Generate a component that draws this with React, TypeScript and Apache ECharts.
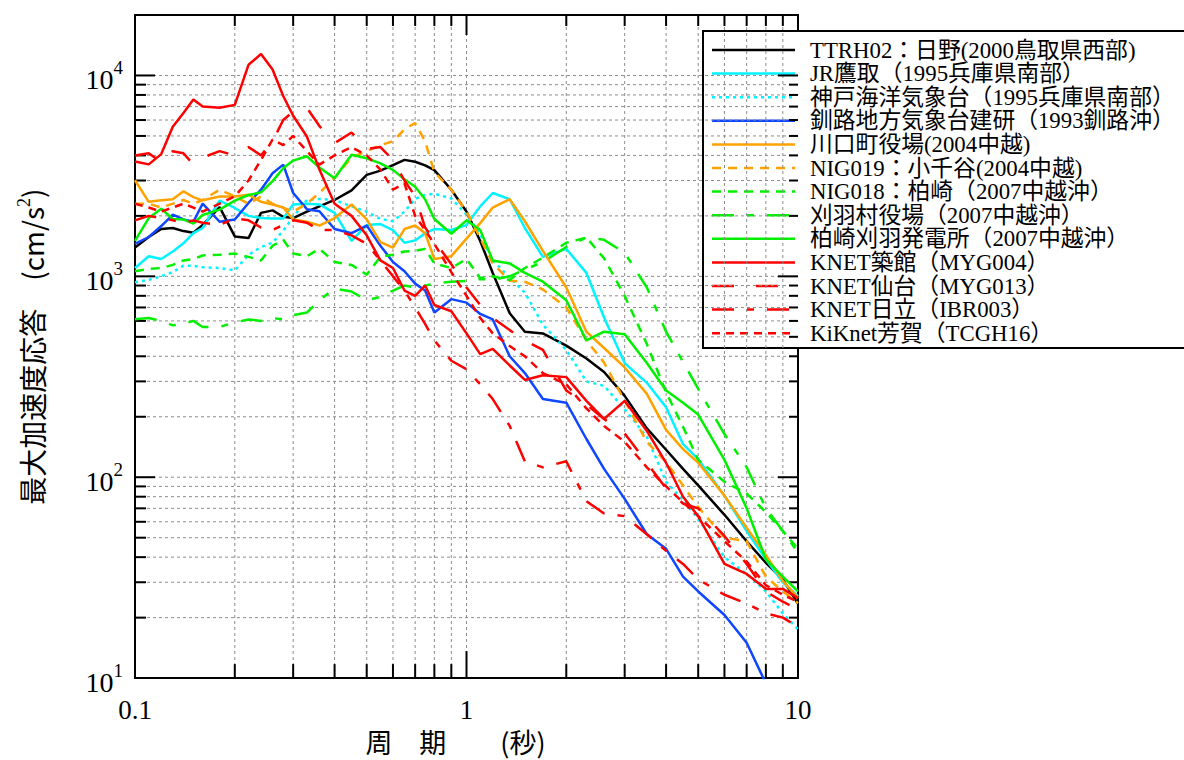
import React, { useEffect, useRef } from 'react';
import * as echarts from 'echarts';

// ---------- data ----------
const periods = [0.1, 0.11, 0.12, 0.13, 0.14, 0.15, 0.16, 0.18, 0.2, 0.22, 0.24, 0.26, 0.28, 0.3, 0.33, 0.36, 0.4, 0.45, 0.5, 0.55, 0.6, 0.65, 0.7, 0.75, 0.8, 0.9, 1.0, 1.1, 1.2, 1.35, 1.5, 1.7, 2.0, 2.3, 2.6, 3.0, 3.5, 4, 4.5, 5, 6, 7, 8, 9, 10];

const seriesNames = [
  'TTRH02：日野(2000鳥取県西部)',
  'JR鷹取（1995兵庫県南部）',
  '神戸海洋気象台（1995兵庫県南部）',
  '釧路地方気象台建研（1993釧路沖）',
  '川口町役場(2004中越)',
  'NIG019：小千谷(2004中越)',
  'NIG018：柏崎（2007中越沖）',
  '刈羽村役場（2007中越沖）',
  '柏崎刈羽発電所（2007中越沖）',
  'KNET築館（MYG004）',
  'KNET仙台（MYG013）',
  'KNET日立（IBR003）',
  'KiKnet芳賀（TCGH16）',
];

const ttrh02 = [1390, 1570, 1720, 1740, 1680, 1650, 1800, 2210, 1580, 1550, 2070, 2130, 1980, 1950, 2100, 2230, 2400, 2680, 3200, 3360, 3580, 3800, 3720, 3570, 3380, 2700, 2100, 1500, 1040, 655, 530, 520, 452, 390, 334, 254, 175, 137, 110, 91, 65, 48, 37.5, 31, 23.4];
const jrTakatori = [1100, 1260, 1220, 1330, 1460, 1640, 1740, 2380, 2190, 2000, 1950, 1940, 1940, 2280, 2300, 2280, 2070, 1500, 1800, 1820, 1700, 1470, 1510, 1640, 1720, 1700, 1800, 2230, 2600, 2420, 1740, 1250, 1370, 1040, 624, 370, 295, 223, 146, 123, 81, 54, 39, 30, 25.6];
const kobe = [935, 960, 1000, 1050, 1130, 1130, 1110, 1100, 1070, 1280, 1400, 1470, 1690, 1970, 2400, 2430, 2400, 2230, 2100, 1930, 1880, 2100, 2430, 2540, 2580, 2440, 2030, 1620, 1200, 985, 830, 575, 430, 300, 285, 218, 159, 95, 77, 62, 40, 33, 27, 21, 17.5];
const kushiro = [1450, 1570, 1780, 2030, 1920, 1870, 2300, 1870, 1920, 2320, 2700, 3260, 3600, 2600, 2160, 2110, 1720, 1640, 1790, 1420, 1180, 1060, 920, 850, 660, 770, 740, 650, 610, 400, 330, 245, 235, 155, 110, 78, 52, 44, 32, 27, 20.6, 15, 9.4, null, null];
const kawaguchi = [3010, 2350, 2390, 2420, 2650, 2480, 2390, 2500, 2500, 2550, 2350, 2280, 2200, 1920, 1870, 1790, 1950, 2280, 1920, 1480, 1390, 1720, 1790, 1640, 1220, 1260, 1540, 1840, 2200, 2420, 1880, 1340, 880, 530, 440, 352, 260, 172, 138, 118, 81, 56, 41, 30.5, 25];
const nig019 = [2300, 2300, 2200, 2300, 2400, 2300, 2400, 2700, 2500, 2300, 2500, 2300, 2200, 2100, 2300, 2600, 3100, 3900, 4200, 4500, 4700, 5400, 5800, 4700, 3300, 2700, 2100, 1550, 1160, 950, 940, 860, 700, 480, 372, 240, 150, 119, 91, 71, 50, 48, 32, 27, 23.6];
const nig018 = [1060, 1090, 1100, 1140, 1200, 1220, 1270, 1280, 1300, 1250, 1200, 1420, 1520, 1300, 1260, 1370, 1180, 1140, 1020, 1250, 1280, 1330, 1340, 1370, 1160, 1100, 1220, 980, 1000, 960, 1100, 1240, 1470, 1560, 1230, 800, 460, 265, 178, 122, 95, 83, 67, 54, 44];
const kariwa = [612, 620, 600, 570, 580, 600, 560, 560, 590, 610, 600, 620, 610, 640, 660, 760, 870, 840, 760, 790, 850, 900, 880, 900, 920, 940, 950, 970, 960, 1000, 1080, 1180, 1400, 1560, 1520, 1310, 880, 530, 375, 275, 164, 112, 70, 54, 42];
const kashiwazaki = [1500, 1950, 2170, 1930, 1920, 1830, 2020, 2150, 2380, 2540, 2620, 2980, 3450, 3770, 3960, 3480, 3080, 4030, 3870, 3650, 3390, 3040, 2790, 2420, 1930, 1630, 1900, 1700, 1200, 1160, 1040, 940, 760, 480, 530, 515, 370, 270, 235, 205, 122, 70, 39, 32, 27];
const tsukidate = [3730, 3610, 4060, 5560, 6500, 7600, 7000, 6900, 7140, 11300, 12800, 10700, 7900, 6300, 4970, 3400, 2300, 2000, 1600, 1200, 1100, 850, 800, 900, 720, 670, 520, 410, 435, 360, 305, 322, 315, 240, 195, 240, 170, 118, 80, 64, 37, 33, 27.8, 27.8, 25];
const sendai = [4000, 4100, 3700, 4200, 4100, 3600, 3900, 4200, 4000, 4400, 4000, 4700, 6000, 6600, 6900, 5600, 4600, 5200, 4300, 4400, 3800, 3000, 2500, 1750, 1500, 1150, 880, 720, 620, 540, 480, 430, 270, 230, 195, 165, 118, 88, 74, 70, 51, 37, 27, 24, 22];
const hitachi = [1900, 2000, 1950, 1900, 1850, 1900, 1850, 1800, 1950, 1900, 1750, 1700, 1800, 1900, 1850, 1700, 1700, 1600, 1450, 1200, 1000, 850, 700, 580, 480, 380, 345, 290, 245, 180, 120, 112, 120, 76, 66, 64, 52, 43, 37, 31, 26, 23.5, 21, 20, 18];
const haga = [2300, 2200, 2100, 2200, 2300, 2200, 2100, 2300, 2500, 3000, 3800, 4800, 4500, 5000, 4200, 3600, 4000, 4400, 4000, 3400, 2700, 2900, 2000, 1700, 1450, 1050, 800, 620, 520, 450, 400, 330, 290, 220, 180, 150, 112, 90, 75, 64, 48, 38, 29, 26, 24];

const seriesValues = [ttrh02, jrTakatori, kobe, kushiro, kawaguchi, nig019, nig018, kariwa, kashiwazaki, tsukidate, sendai, hitachi, haga];

// grid / tick values
const xMinorTicks = [0.2, 0.3, 0.4, 0.5, 0.6, 0.7, 0.8, 0.9, 2, 3, 4, 5, 6, 7, 8, 9];
const xMajorTicks = [1];
const yMinorTicks = [20, 30, 40, 50, 60, 70, 80, 90, 200, 300, 400, 500, 600, 700, 800, 900, 2000, 3000, 4000, 5000, 6000, 7000, 8000, 9000];
const yMajorTicks = [100, 1000, 10000];

// ---------- styles ----------
const X_MIN = 0.1, X_MAX = 10, Y_MIN = 10, Y_MAX = 20000;
const LATIN = "'Liberation Serif', 'Noto Sans CJK JP', serif";
const CJK = "'Noto Sans CJK JP', 'Liberation Serif', sans-serif";

const lineStyles: { color: string; dash: number[] | null }[] = [
  { color: '#000000', dash: null },
  { color: '#00f4ff', dash: null },
  { color: '#00f4ff', dash: [3, 4] },
  { color: '#0f46ff', dash: null },
  { color: '#ffa200', dash: null },
  { color: '#ffa200', dash: [9, 7] },
  { color: '#00f000', dash: [9, 7] },
  { color: '#00f000', dash: [22, 13, 7, 13] },
  { color: '#00f000', dash: null },
  { color: '#ff0000', dash: null },
  { color: '#ff0000', dash: [22, 22] },
  { color: '#ff0000', dash: [22, 13, 7, 13] },
  { color: '#ff0000', dash: [8, 6] },
];

export default function App() {
  const ref = useRef<HTMLDivElement>(null);

  useEffect(() => {
    if (!ref.current) return;
    const chart = echarts.init(ref.current, null, { renderer: 'svg' });

    const gridData: number[][] = [
      ...xMinorTicks.map((v) => [v, Y_MIN, 0]),
      ...xMajorTicks.map((v) => [v, Y_MIN, 1]),
      ...yMinorTicks.map((v) => [X_MIN, v, 2]),
      ...yMajorTicks.map((v) => [X_MIN, v, 3]),
    ];

    const gridStyle = { stroke: '#8c8c8c', lineWidth: 1, lineDash: [3, 3] };
    const tickStyle = { stroke: '#000', lineWidth: 2 };

    const legendChildren: any[] = [
      {
        type: 'rect',
        shape: { x: 703, y: 31, width: 540, height: 317 },
        style: { fill: '#fff', stroke: '#000', lineWidth: 2 },
      },
    ];
    seriesNames.forEach((name, i) => {
      const y = 50 + i * 23.6;
      legendChildren.push({
        type: 'line',
        shape: { x1: 712, y1: y, x2: 795, y2: y },
        style: { stroke: lineStyles[i].color, lineWidth: 2.5, lineDash: lineStyles[i].dash || undefined },
      });
      legendChildren.push({
        type: 'text',
        x: 810,
        y: y,
        style: {
          text: name,
          font: `22.8px ${LATIN}`,
          fill: '#000',
          verticalAlign: 'middle',
          textVerticalAlign: 'middle',
        },
      });
    });

    const series: any[] = [
      {
        type: 'custom',
        name: '__grid',
        silent: true,
        z: 1,
        coordinateSystem: 'cartesian2d',
        encode: { x: 0, y: 1 },
        data: gridData,
        renderItem: (params: any, api: any) => {
          const cs = params.coordSys;
          const left = cs.x, top = cs.y, right = cs.x + cs.width, bottom = cs.y + cs.height;
          const kind = api.value(2);
          const children: any[] = [];
          if (kind < 2) {
            const px = api.coord([api.value(0), Y_MIN])[0];
            const major = kind === 1;
            children.push({ type: 'line', shape: { x1: px, y1: top, x2: px, y2: bottom }, style: gridStyle });
            children.push({ type: 'line', shape: { x1: px, y1: bottom, x2: px, y2: bottom - (major ? 27 : 14) }, style: tickStyle });
            children.push({ type: 'line', shape: { x1: px, y1: top, x2: px, y2: top + (major ? 20 : 11) }, style: tickStyle });
          } else {
            const py = api.coord([X_MIN, api.value(1)])[1];
            const major = kind === 3;
            children.push({ type: 'line', shape: { x1: left, y1: py, x2: right, y2: py }, style: gridStyle });
            children.push({ type: 'line', shape: { x1: left, y1: py, x2: left + (major ? 20 : 11), y2: py }, style: tickStyle });
            children.push({ type: 'line', shape: { x1: right, y1: py, x2: right - (major ? 20 : 9), y2: py }, style: tickStyle });
          }
          return { type: 'group', children };
        },
      },
      ...seriesNames.map((name, i) => ({
        type: 'line',
        name,
        z: 3 + i * 0.01,
        symbol: 'none',
        showSymbol: false,
        connectNulls: false,
        lineStyle: {
          color: lineStyles[i].color,
          width: 2.5,
          type: lineStyles[i].dash || 'solid',
        },
        itemStyle: { color: lineStyles[i].color },
        data: periods.map((t, k) => [t, seriesValues[i][k]]),
      })),
    ];

    chart.setOption({
      animation: false,
      backgroundColor: '#fff',
      grid: {
        left: 135,
        top: 15,
        width: 663,
        height: 667,
        show: true,
        borderColor: '#000',
        borderWidth: 2,
        backgroundColor: 'transparent',
      },
      xAxis: {
        type: 'log',
        logBase: 10,
        min: X_MIN,
        max: X_MAX,
        axisLine: { show: false },
        axisTick: { show: false },
        splitLine: { show: false },
        axisLabel: {
          fontSize: 27,
          fontFamily: LATIN,
          color: '#000',
          margin: 18,
          formatter: (v: number) => {
            const e = Math.log10(v);
            if (Math.abs(e - Math.round(e)) > 1e-6) return '';
            return String(parseFloat(v.toPrecision(6)));
          },
        },
        name: '周　期　　(秒)',
        nameLocation: 'middle',
        nameGap: 48,
        nameTextStyle: { fontSize: 27, fontFamily: CJK, color: '#000', padding: [0, 22, 0, 0] },
      },
      yAxis: {
        type: 'log',
        logBase: 10,
        min: Y_MIN,
        max: Y_MAX,
        axisLine: { show: false },
        axisTick: { show: false },
        splitLine: { show: false },
        axisLabel: {
          margin: 12,
          formatter: (v: number) => {
            const e = Math.log10(v);
            const r = Math.round(e);
            if (Math.abs(e - r) > 1e-6) return '';
            return `{b|10}{s|${r}}`;
          },
          rich: {
            b: { fontSize: 28, fontFamily: LATIN, color: '#000', lineHeight: 34, padding: [8, 0, 0, 0] },
            s: { fontSize: 19, fontFamily: LATIN, color: '#000', verticalAlign: 'top', lineHeight: 20 },
          },
        },
        name: '{n|最大加速度応答　(cm/s}{s|2}{n|)}',
        nameLocation: 'middle',
        nameGap: 86,
        nameTextStyle: {
          rich: {
            n: { fontSize: 28, fontFamily: CJK, color: '#000', lineHeight: 34 },
            s: { fontSize: 18, fontFamily: LATIN, color: '#000', verticalAlign: 'top', lineHeight: 18 },
          },
        },
      },
      graphic: [{ type: 'group', z: 100, children: legendChildren }],
      series,
    });

    return () => {
      chart.dispose();
    };
  }, []);

  return (
    <div
      ref={ref}
      style={{ position: 'fixed', left: 0, top: 0, width: 1184, height: 760, background: '#fff' }}
    />
  );
}
